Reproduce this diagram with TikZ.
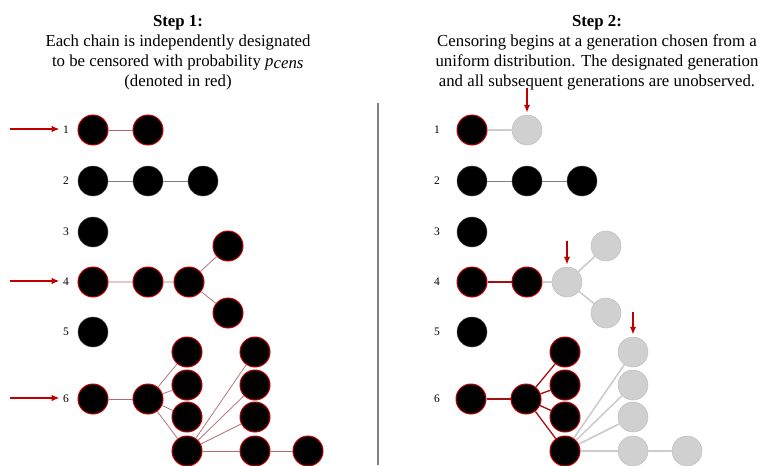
\documentclass[tikz,border=0pt]{standalone}
\usepackage{fontspec}
\setmainfont{Liberation Serif}
\usetikzlibrary{arrows.meta}
\definecolor{censred}{HTML}{C00000}
\definecolor{linkred}{HTML}{B06868}
\definecolor{darklink}{HTML}{A01010}
\definecolor{hidegrey}{HTML}{D0D0D0}
\tikzset{gen/.style = {circle, fill=black, draw=black!70, line width=0.5pt,
                       minimum size=30pt, inner sep=0pt}}
\tikzset{redgen/.style = {gen, draw=censred, line width=1pt}}
\tikzset{hidgen/.style = {gen, fill=hidegrey, draw=black!25}}
\tikzset{link/.style = {draw=black!50, line width=1pt}}
\tikzset{redlink/.style = {draw=linkred, line width=0.7pt}}
\tikzset{darkredlink/.style = {draw=darklink, line width=1.3pt}}
\tikzset{hidlink/.style = {draw=black!20, line width=1.6pt}}
\tikzset{censarrow/.style = {-{Latex[length=8pt, width=6.5pt]}, draw=censred,
                             fill=censred, line width=1.8pt}}
\tikzset{rowlabel/.style = {font=\fontsize{11.5}{13}\selectfont}}
\tikzset{title/.style = {align=center, anchor=north, inner sep=0pt,
                         font=\fontsize{16.8}{20}\selectfont}}

\begin{document}
\begin{tikzpicture}[x=1pt, y=-1pt]
    \useasboundingbox (0,0) rectangle (758,466);

    \node [title] (head1) at (178,15) {\textbf{Step 1:}\\
      Each chain is independently designated\\
      to be censored with probability \textit{p}$_{\textit{cens}}$\\
      (denoted in red)};
    \node [title] (head2) at (597,15) {\textbf{Step 2:}\\
      Censoring begins at a generation chosen from a\\
      uniform distribution. The designated generation\\
      and all subsequent generations are unobserved.};

    \draw [black!50, line width=2pt] (378,103) -- (378,465);

    \foreach \r/\y in {1/130, 2/181, 3/232, 4/282, 5/332, 6/399} {
      \node [rowlabel] (ln\r) at (66,\y) {\r};
      \node [rowlabel] (rn\r) at (437,\y) {\r};
    }

    % step 1
    \node [redgen] (p11) at (93,130) {};
    \node [redgen] (p12) at (148,130) {};
    \draw [redlink] (p11) -- (p12);

    \node [gen] (p21) at (93,181) {};
    \node [gen] (p22) at (148,181) {};
    \node [gen] (p23) at (203,181) {};
    \draw [link] (p21) -- (p22) -- (p23);

    \node [gen] (p31) at (93,232) {};

    \node [redgen] (p41) at (93,282) {};
    \node [redgen] (p42) at (148,282) {};
    \node [redgen] (p43) at (189,282) {};
    \node [redgen] (p4a) at (228,246) {};
    \node [redgen] (p4b) at (228,313) {};
    \draw [redlink] (p41) -- (p42) -- (p43) -- (p4a);
    \draw [redlink] (p43) -- (p4b);

    \node [gen] (p51) at (93,332) {};

    \node [redgen] (p61) at (93,399) {};
    \node [redgen] (p62) at (148,399) {};
    \draw [redlink] (p61) -- (p62);
    \foreach \k/\y in {1/352, 2/385, 3/417, 4/451} {
      \node [redgen] (p6a\k) at (187,\y) {};
      \node [redgen] (p6b\k) at (255,\y) {};
    }
    \foreach \k in {1,...,4} {
      \draw [redlink] (p62) -- (p6a\k);
      \draw [redlink] (p6a4) -- (p6b\k);
    }
    \node [redgen] (p6c) at (308,451) {};
    \draw [redlink] (p6b4) -- (p6c);

    \foreach \r/\y in {1/129, 4/281, 6/398} {
      \coordinate (s\r) at (10,\y);
      \draw [censarrow] (s\r) -- (ln\r.west |- s\r);
    }

    % step 2
    \node [redgen] (q11) at (472,130) {};
    \node [hidgen] (q12) at (527,130) {};
    \draw [hidlink] (q11) -- (q12);

    \node [gen] (q21) at (472,181) {};
    \node [gen] (q22) at (527,181) {};
    \node [gen] (q23) at (582,181) {};
    \draw [link] (q21) -- (q22) -- (q23);

    \node [gen] (q31) at (472,232) {};

    \node [redgen] (q41) at (472,282) {};
    \node [redgen] (q42) at (527,282) {};
    \node [hidgen] (q43) at (567,282) {};
    \node [hidgen] (q4a) at (606,246) {};
    \node [hidgen] (q4b) at (606,313) {};
    \draw [darkredlink] (q41) -- (q42);
    \draw [hidlink] (q42) -- (q43) -- (q4a);
    \draw [hidlink] (q43) -- (q4b);

    \node [gen] (q51) at (472,332) {};

    \node [redgen] (q61) at (471,399) {};
    \node [redgen] (q62) at (526,399) {};
    \draw [darkredlink] (q61) -- (q62);
    \foreach \k/\y in {1/352, 2/385, 3/417, 4/451} {
      \node [redgen] (q6a\k) at (565,\y) {};
      \node [hidgen] (q6b\k) at (633,\y) {};
    }
    \foreach \k in {1,...,4} {
      \draw [darkredlink] (q62) -- (q6a\k);
      \draw [hidlink] (q6a4) -- (q6b\k);
    }
    \node [hidgen] (q6c) at (687,451) {};
    \draw [hidlink] (q6b4) -- (q6c);

    \coordinate (t1) at (527,88);
    \coordinate (t4) at (567,241);
    \coordinate (t6) at (633,312);
    \draw [censarrow] (t1) -- ([yshift=2pt]q12.north);
    \draw [censarrow] (t4) -- ([yshift=2pt]q43.north);
    \draw [censarrow] (t6) -- ([yshift=2pt]q6b1.north);
  \end{tikzpicture}
\end{document}
